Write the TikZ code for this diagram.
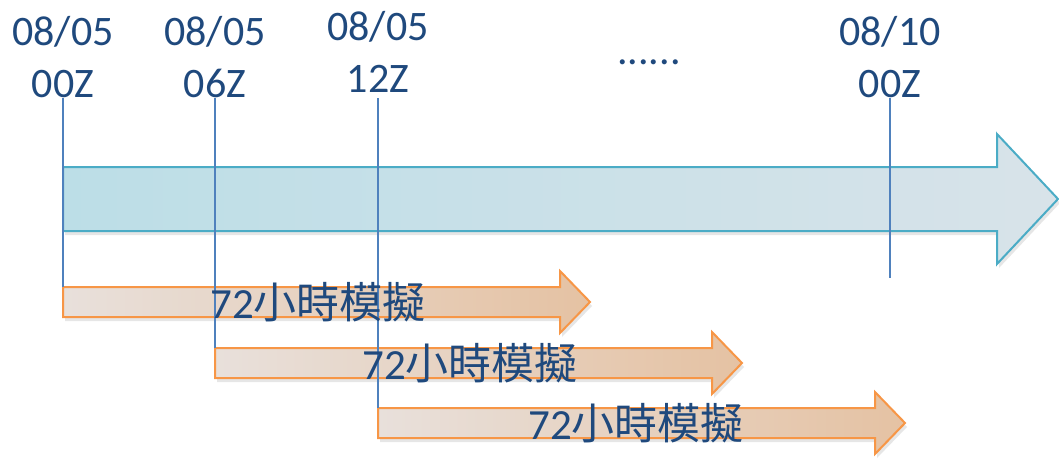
\documentclass[tikz,border=0pt]{standalone}
\usepackage{fontspec}
\setmainfont{Carlito}
\newfontfamily\cjk{Noto Sans CJK TC}
\usetikzlibrary{positioning,shadows}

\definecolor{labelblue}{RGB}{31,73,125}
\definecolor{tickblue}{RGB}{79,129,189}
\definecolor{axisedge}{RGB}{75,172,198}
\definecolor{axisleft}{RGB}{188,222,231}
\definecolor{axisright}{RGB}{216,227,233}
\definecolor{runedge}{RGB}{247,150,70}
\definecolor{runleft}{RGB}{232,224,219}
\definecolor{runright}{RGB}{229,194,163}

\tikzset{
    stamp/.style={font=\fontsize{42}{52}\selectfont, text=labelblue, align=center, inner sep=0pt, anchor=south},
    tick/.style={draw=tickblue, line width=1.6pt},
    timeline/.style={draw=axisedge, line width=2pt, left color=axisleft, right color=axisright,
        drop shadow={shadow xshift=2pt, shadow yshift=-4pt, opacity=0.2}},
    runarrow/.style={draw=runedge, line width=2pt, left color=runleft, right color=runright,
        drop shadow={shadow xshift=2pt, shadow yshift=-4pt, opacity=0.2}},
    runlabel/.style={font=\fontsize{43}{48}\selectfont, text=labelblue, inner sep=0pt}
}

\begin{document}
\begin{tikzpicture}[x=1pt, y=-1pt]
        \useasboundingbox (0,0) rectangle (1059,458);

        % the long time axis
        \path[timeline] (63,167) -- (997,167) -- (997,134) -- (1058,199) -- (997,264) -- (997,231) -- (63,231) -- cycle;

        % one arrow per run
        \coordinate (r1) at (63,287);
        \coordinate (r2) at (215,348);
        \coordinate (r3) at (378,408);
        \path[runarrow] (r1) -- ++(497,0) -- ++(0,-16) -- ++(30,31) -- ++(-30,31) -- ++(0,-16) -- ++(-497,0) -- cycle;
        \path[runarrow] (r2) -- ++(497,0) -- ++(0,-16) -- ++(30,31) -- ++(-30,31) -- ++(0,-16) -- ++(-497,0) -- cycle;
        \path[runarrow] (r3) -- ++(497,0) -- ++(0,-16) -- ++(30,31) -- ++(-30,31) -- ++(0,-16) -- ++(-497,0) -- cycle;

        % start times
        \node[stamp] (t1) at (63,98) {08/05\\00Z};
        \node[stamp] (t2) at (215,98) {08/05\\06Z};
        \node[stamp] (t3) at (378,93) {08/05\\12Z};
        \node[stamp] (t4) at (890,98) {08/10\\00Z};
        \node[font=\fontsize{42}{52}\selectfont, text=labelblue, anchor=base] (gap) at (649,64) {......};

        \coordinate (e4) at (890,278);
        \draw[tick] (t1.south) -- (r1);
        \draw[tick] (t2.south) -- (r2);
        \draw[tick, shorten <=5pt] (t3.south) -- (r3);
        \draw[tick] (t4.south) -- (e4);

        % run lengths
        \node[runlabel] (l1) at (318,302) {72\cjk 小時模擬};
        \node[runlabel] (l2) at (470,363) {72\cjk 小時模擬};
        \node[runlabel] (l3) at (636,423) {72\cjk 小時模擬};
\end{tikzpicture}
\end{document}
